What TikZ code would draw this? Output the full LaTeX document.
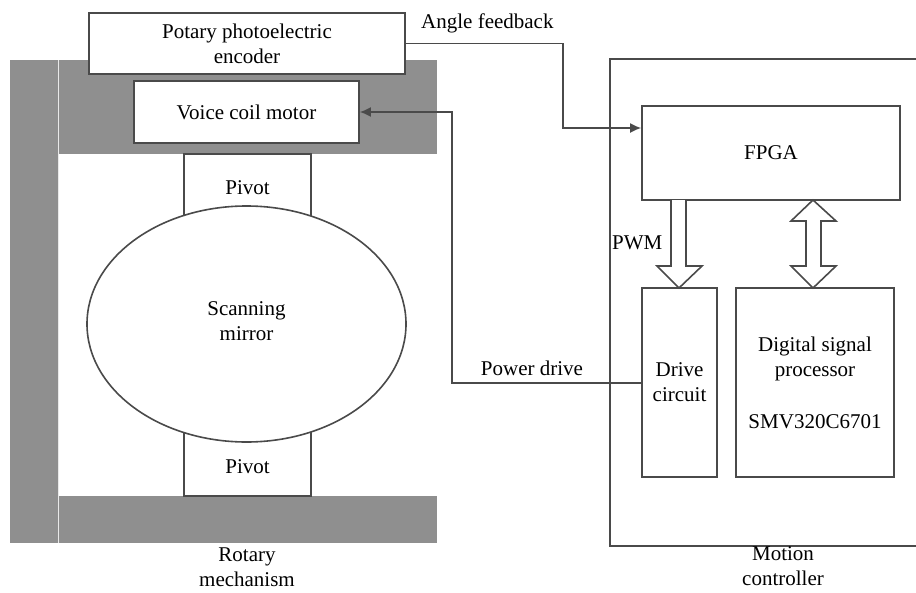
\documentclass[tikz,border=0pt]{standalone}
\usepackage{fontspec}
\setmainfont{Liberation Serif}
\usetikzlibrary{shapes.geometric,arrows.meta}
\definecolor{ln}{HTML}{4A4A4A}
\definecolor{bar}{HTML}{8F8F8F}
\begin{document}
\begin{tikzpicture}[x=1pt,y=-1pt,
  box/.style={draw=ln,line width=1.6pt,fill=white,rectangle,inner sep=0pt,align=center,font=\fontsize{21}{25}\selectfont},
  lbl/.style={inner sep=0pt,align=center,font=\fontsize{21}{25}\selectfont},
  wire/.style={draw=ln,line width=1.6pt},
  tip/.style={-{Latex[length=11pt,width=10pt]}}]
\useasboundingbox (0,0) rectangle (916,592);
% frame of rotary mechanism
\fill[bar] (10,60) rectangle (58,543);
\fill[bar] (58,60) rectangle (437,154);
\fill[bar] (58,496) rectangle (437,543);
\draw[white!80!bar,line width=0.6pt] (58,60) -- (58,543);
% pivots and mirror
\node[box,minimum width=127pt,minimum height=65pt] (pivtop) at (247.5,186.5) {};
\node[box,minimum width=127pt,minimum height=70pt] (pivbot) at (247.5,461) {};
\node[ellipse,draw=ln,line width=1.6pt,fill=white,minimum width=319pt,minimum height=236pt,inner sep=0pt] (mirror) at (246.5,324) {};
\node[lbl] (mirrortxt) at (246.5,321) {Scanning\\mirror};
\node[lbl] (pivtoptxt) at (247.5,188) {Pivot};
\node[lbl] (pivbottxt) at (247.5,467) {Pivot};
% encoder and motor
\node[box,minimum width=316pt,minimum height=61pt] (enc) at (247,43.5) {Potary photoelectric\\encoder};
\node[box,minimum width=225pt,minimum height=62pt] (vcm) at (246.5,112) {Voice coil motor};
% motion controller frame
\draw[wire] (916,59) -- (610,59) -- (610,546) -- (916,546);
% controller blocks
\node[box,minimum width=258pt,minimum height=94pt] (fpga) at (771,153) {FPGA};
\node[box,minimum width=75pt,minimum height=189pt] (drive) at (679.5,382.5) {Drive\\circuit};
\node[box,minimum width=158pt,minimum height=189pt] (dsp) at (815,382.5) {Digital signal\\processor\\[27pt]SMV320C6701};
% hollow arrows
\draw[ln,line width=1.6pt,fill=white,line join=miter]
  (671,200) -- (671,266) -- (657,266) -- (679,288) -- (702,266) -- (686,266) -- (686,200);
\draw[ln,line width=1.6pt,fill=white,line join=miter]
  (806,221) -- (806,266) -- (791,266) -- (813,288) -- (836,266) -- (821,266) -- (821,221) -- (836,221) -- (813,200) -- (791,221) -- cycle;
% connectors
\coordinate (af1) at (563,43.5);
\coordinate (af2) at (563,128);
\draw[wire,tip] (enc.east) -- (af1) -- (af2) -- (fpga.west |- af2);
\coordinate (pd1) at (452,383);
\coordinate (pd2) at (452,112);
\draw[wire,tip] (drive.west |- pd1) -- (pd1) -- (pd2) -- (vcm.east);
% labels
\node[lbl,anchor=west] (aflbl) at (421,23) {Angle feedback};
\node[lbl] (pdlbl) at (532,368) {Power drive};
\node[lbl,anchor=west] (pwmlbl) at (612,243) {PWM};
\node[lbl] (rmlbl) at (247,567) {Rotary\\mechanism};
\node[lbl] (mclbl) at (783,566) {Motion\\controller};
\end{tikzpicture}
\end{document}
